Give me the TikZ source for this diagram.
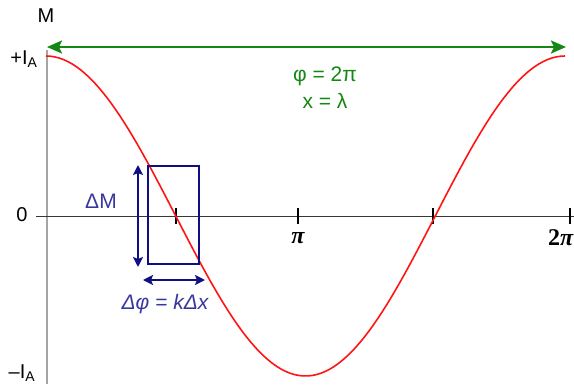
\documentclass[tikz,border=0pt]{standalone}
\usepackage{fontspec}
\setmainfont{Liberation Sans}
\newfontfamily\serifpi{Liberation Serif}
\usetikzlibrary{arrows.meta,calc,positioning}
\definecolor{curve}{RGB}{255,20,20}
\definecolor{wave}{RGB}{20,135,20}
\definecolor{box}{RGB}{15,15,130}
\definecolor{lbl}{RGB}{55,55,160}
\definecolor{axv}{RGB}{165,165,165}
\definecolor{axh}{RGB}{55,55,55}
\begin{document}
\begin{tikzpicture}[x=1pt,y=-1pt]
  \useasboundingbox (0,0) rectangle (574,389);
  \coordinate (O) at (47,216);
  \coordinate (Vtop) at (47,50);
  \coordinate (Vbot) at (47,384);
  \coordinate (Hl) at (36,216);
  \coordinate (Hr) at (576,216);
  \draw[axv,line width=1.6pt] (Vtop)--(Vbot);
  \draw[axh,line width=1pt] (Hl)--(Hr);
  \foreach \k/\xx in {1/176,2/298,3/433,4/570} \draw[black,line width=1.4pt] (\xx,208) coordinate (T\k)--(\xx,224);
  \node[font=\serifpi\bfseries\itshape\fontsize{24}{24}\selectfont] (pi) at (298,238) {π};
  \node[font=\serifpi\bfseries\fontsize{24}{24}\selectfont,anchor=east,inner sep=0pt] (twopi) at (574,238) {2\textit{π}};
  \draw[curve,line width=1.6pt] plot[domain=0:360,samples=120] ({46+1.44167*\x},{216-160*cos(\x)});
  \coordinate (Gl) at (47,47);
  \coordinate (Gr) at (566,47);
  \draw[wave,line width=2.4pt,{Stealth[length=15pt,width=13pt,inset=3pt]}-{Stealth[length=15pt,width=13pt,inset=3pt]}] (Gl)--(Gr);
  \node[wave,font=\fontsize{21}{21}\selectfont] (phi) at (325,76) {φ = 2π};
  \node[wave,font=\fontsize{21}{21}\selectfont] (lam) at (325,101) {x = λ};
  \node[draw=box,line width=2.2pt,minimum width=51pt,minimum height=98pt,inner sep=0pt] (win) at (173.5,215) {};
  \coordinate (dMt) at (138,165);
  \coordinate (dMb) at (138,267);
  \coordinate (dPl) at (143,280);
  \coordinate (dPr) at (205,280);
  \draw[box,line width=2.2pt,{Stealth[length=10pt,width=10pt,inset=2pt]}-{Stealth[length=10pt,width=10pt,inset=2pt]}] (dMt)--(dMb);
  \draw[box,line width=2.2pt,{Stealth[length=10pt,width=10pt,inset=2pt]}-{Stealth[length=10pt,width=10pt,inset=2pt]}] (dPl)--(dPr);
  \node[lbl,font=\fontsize{21}{21}\selectfont] (dM) at (101,201) {ΔM};
  \node[lbl,font=\itshape\fontsize{21}{21}\selectfont] (dphi) at (165,304) {Δφ = kΔx};
  \node[font=\fontsize{20}{20}\selectfont] (M) at (46,16) {M};
  \node[font=\fontsize{20}{20}\selectfont] (pIA) at (24,59) {+I\textsubscript{A}};
  \node[font=\fontsize{20}{20}\selectfont] (zero) at (22,215) {0};
  \node[font=\fontsize{20}{20}\selectfont] (mIA) at (22,373) {–I\textsubscript{A}};
\end{tikzpicture}
\end{document}
